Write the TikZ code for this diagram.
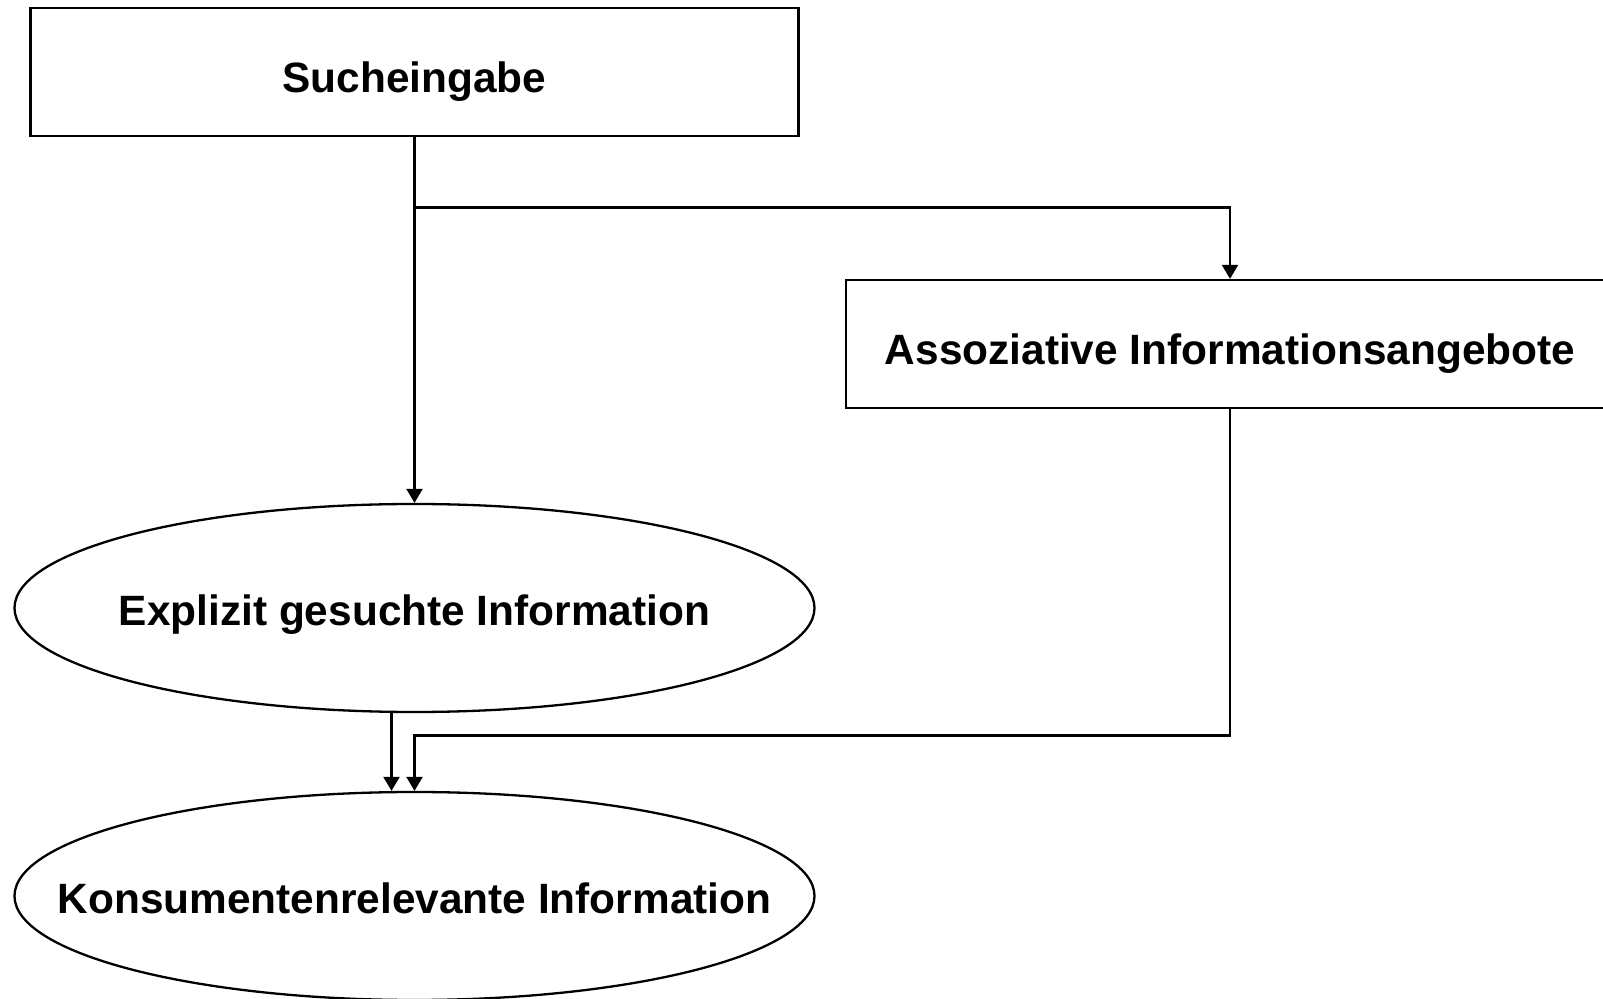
\documentclass[tikz,border=0pt]{standalone}
\usepackage{fontspec}
\setmainfont{Liberation Sans}
\usepackage{tikz}
\usetikzlibrary{arrows.meta,%
	shapes.geometric}

\begin{document}
\begin{tikzpicture}[x=0.5pt,y=-0.5pt]
			\tikzstyle{BoxStyle} = [draw, line width=1.15pt, rectangle, minimum width=384pt, minimum height=64pt, inner sep=0pt, text height=21pt, text depth=0pt, font=\bfseries\fontsize{21.2}{25}\selectfont]
			\tikzstyle{OvalStyle} = [draw, line width=1.15pt, ellipse, minimum width=400pt, minimum height=104pt, inner sep=0pt, text height=18pt, text depth=0pt, font=\bfseries\fontsize{21.2}{25}\selectfont]
			\tikzstyle{EdgeStyle} = [line width=1.15pt, -{Triangle[width=8pt,length=7pt]}]
			\useasboundingbox (0,0) rectangle (1603,999);
			
			\node[BoxStyle] (such) at (414.5,72) {\makebox[0pt]{Sucheingabe}};
			\node[BoxStyle] (assoz) at (1230,344) {\makebox[0pt]{Assoziative Informationsangebote}};
			\node[OvalStyle] (expl) at (414.5,608) {\makebox[0pt]{Explizit gesuchte Information}};
			\node[OvalStyle] (kons) at (414.5,896) {\makebox[0pt]{Konsumentenrelevante Information}};
			\coordinate (split) at (414.5,207.5);
			\coordinate (join) at (414.5,735.5);
			
			\draw[EdgeStyle] (such.south) -- (expl.north);
			\draw[EdgeStyle] (split) -| (assoz.north);
			\draw[EdgeStyle] ([xshift=-11.5pt]expl.south) -- ([xshift=-11.5pt]kons.north);
			\draw[EdgeStyle] (assoz.south) |- (join) -- (kons.north);
			\end{tikzpicture}
\end{document}
